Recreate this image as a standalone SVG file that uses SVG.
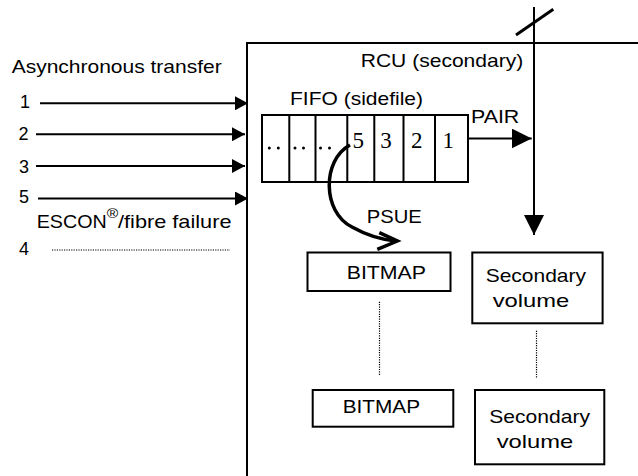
<svg xmlns="http://www.w3.org/2000/svg" width="638" height="476" viewBox="0 0 638 476">
<style>
  .t { font-family: "Liberation Sans", Arial, sans-serif; font-size: 18.6px; fill: #000; }
  .d { font-family: "Liberation Sans", Arial, sans-serif; font-size: 18px; fill: #000; }
  .s { font-family: "Liberation Serif", "Times New Roman", serif; font-size: 23px; fill: #000; text-anchor: middle; }
  .box { fill: #fff; stroke: #000; stroke-width: 2; }
  .ln { fill: none; stroke: #000; stroke-width: 2; }
  .dot { fill: none; stroke: #000; stroke-width: 1.2; stroke-dasharray: 1.2 1.2; }
</style>
<defs>
  <marker id="ah" markerUnits="userSpaceOnUse" markerWidth="13" markerHeight="14" refX="13" refY="7" orient="auto">
    <path d="M0,0 L13,7 L0,14 Z" fill="#000"/>
  </marker>
  <marker id="ahb" markerUnits="userSpaceOnUse" markerWidth="20" markerHeight="20" refX="20" refY="10" orient="auto">
    <path d="M0,0 L20,10 L0,20 Z" fill="#000"/>
  </marker>
</defs>
<rect width="638" height="476" fill="#fff"/>

<g id="rcu">
  <path class="ln" d="M247,480 L247,43 L640,43"/>
  <text class="t" x="360.7" y="66.7" textLength="162.6" lengthAdjust="spacingAndGlyphs">RCU (secondary)</text>
</g>

<g id="labels-left">
  <text class="t" x="11.7" y="73.3" textLength="210" lengthAdjust="spacingAndGlyphs">Asynchronous transfer</text>
  <text class="d" x="20" y="108.3">1</text>
  <text class="d" x="18.5" y="140">2</text>
  <text class="d" x="19" y="173.3">3</text>
  <text class="d" x="19" y="203.3">5</text>
  <text class="d" x="19" y="255">4</text>
  <text class="t" x="36.7" y="228.3" textLength="70" lengthAdjust="spacingAndGlyphs">ESCON</text>
  <text class="t" x="106.7" y="217.5" style="font-size:12px" textLength="11.5" lengthAdjust="spacingAndGlyphs">®</text>
  <text class="t" x="118" y="228.3" textLength="113.5" lengthAdjust="spacingAndGlyphs">/fibre failure</text>
</g>

<g id="fifo">
  <text class="t" x="290" y="105" textLength="133" lengthAdjust="spacingAndGlyphs">FIFO (sidefile)</text>
  <rect class="box" x="262" y="115" width="206" height="67"/>
  <path class="ln" d="M289.3,115 V182 M315.5,115 V182 M347.3,115 V182 M374.3,115 V182 M403.5,115 V182 M435,115 V182"/>
  <g fill="#000">
    <circle cx="269.3" cy="148" r="1.5"/>
    <circle cx="278.3" cy="148" r="1.5"/>
    <circle cx="295" cy="148" r="1.5"/>
    <circle cx="303.5" cy="148" r="1.5"/>
    <circle cx="320.5" cy="148" r="1.5"/>
    <circle cx="329.5" cy="148" r="1.5"/>
  </g>
  <text class="s" x="358.3" y="148.3">5</text>
  <text class="s" x="386" y="148.3">3</text>
  <text class="s" x="416.7" y="148.3">2</text>
  <text class="s" x="448.3" y="148.3">1</text>
</g>

<g id="bitmap1">
  <rect class="box" x="307.5" y="252.5" width="143" height="38.5"/>
  <text class="t" x="346.7" y="279" textLength="79.3" lengthAdjust="spacingAndGlyphs">BITMAP</text>
</g>
<g id="secvol1">
  <rect class="box" x="472.3" y="252.5" width="130.3" height="70.8"/>
  <text class="t" x="485.7" y="282.3" textLength="100.3" lengthAdjust="spacingAndGlyphs">Secondary</text>
  <text class="t" x="492.7" y="306.7" textLength="76.6" lengthAdjust="spacingAndGlyphs">volume</text>
</g>
<g id="bitmap2">
  <rect class="box" x="312.7" y="390" width="140.6" height="36.7"/>
  <text class="t" x="342.7" y="413.3" textLength="77.3" lengthAdjust="spacingAndGlyphs">BITMAP</text>
</g>
<g id="secvol2">
  <rect class="box" x="475" y="390" width="129.3" height="74.3"/>
  <text class="t" x="489.3" y="422.7" textLength="100.7" lengthAdjust="spacingAndGlyphs">Secondary</text>
  <text class="t" x="496.7" y="448.3" textLength="76.6" lengthAdjust="spacingAndGlyphs">volume</text>
</g>

<g id="connectors">
  <line class="ln" x1="40" y1="103.3" x2="248" y2="103.3" marker-end="url(#ah)"/>
  <line class="ln" x1="36" y1="134.3" x2="245" y2="134.3" marker-end="url(#ah)"/>
  <line class="ln" x1="36" y1="166" x2="245" y2="166" marker-end="url(#ah)"/>
  <line class="ln" x1="38" y1="198.5" x2="248" y2="198.5" marker-end="url(#ah)"/>
  <line class="dot" x1="52" y1="250" x2="230" y2="250"/>
  <line class="ln" x1="468" y1="138.5" x2="531.7" y2="138.5" marker-end="url(#ahb)"/>
  <text class="t" x="471" y="123.3" textLength="48.3" lengthAdjust="spacingAndGlyphs">PAIR</text>
  <line class="ln" x1="534" y1="7" x2="534" y2="235" marker-end="url(#ahb)"/>
  <line x1="516" y1="35" x2="553.3" y2="9.3" stroke="#000" stroke-width="3"/>
  <path d="M350,145 C 322,160 322,212 352,227 C 368,236 385,240 396,241" fill="none" stroke="#000" stroke-width="3.5"/>
  <path d="M379.3,232.7 L397.3,241 L377.3,249.3" fill="none" stroke="#000" stroke-width="3.5"/>
  <text class="t" x="366.7" y="222.7" textLength="55" lengthAdjust="spacingAndGlyphs">PSUE</text>
  <line class="dot" x1="379.5" y1="301.7" x2="379.5" y2="375"/>
  <line class="dot" x1="536.5" y1="330.7" x2="536.5" y2="378.3"/>
</g>
</svg>
